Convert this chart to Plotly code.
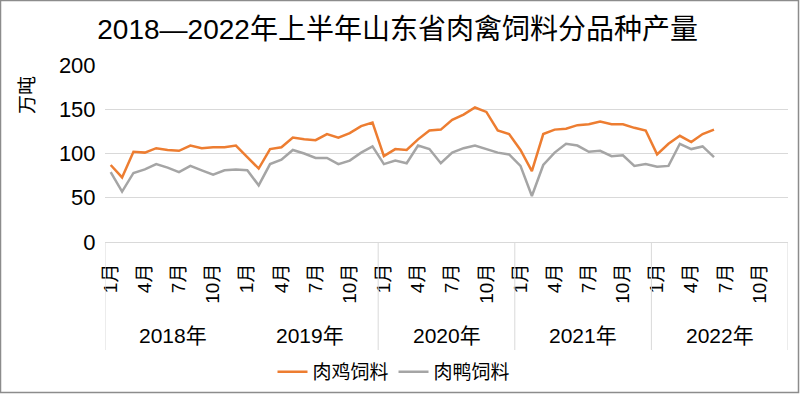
import plotly.graph_objects as go

years = ["2018年", "2019年", "2020年", "2021年", "2022年"]
month_labels = ["1月", "4月", "7月", "10月"]
series_names = ["肉鸡饲料", "肉鸭饲料"]

broiler = [87, 73, 102, 101, 106, 104, 103, 109, 106, 107, 107, 109,
           96, 83, 105, 107, 118, 116, 115, 122, 118, 123, 131, 135,
           97, 105, 104, 116, 126, 127, 138, 144, 152, 147, 126, 122,
           104, 80, 122, 127, 128, 132, 133, 136, 133, 133, 129, 126,
           99, 111, 120, 113, 122, 127]
duck = [79, 57, 78, 82, 88, 84, 79, 86, 81, 76, 81, 82,
        81, 64, 88, 93, 104, 100, 95, 95, 88, 92, 101, 108,
        88, 92, 89, 109, 105, 89, 101, 106, 109, 105, 101, 99,
        86, 52, 87, 101, 111, 109, 102, 103, 97, 98, 86, 88,
        85, 86, 111, 105, 108, 96]

n_months = 12 * len(years)
W, H = 800, 394
ML, MR, MT, MB = 105, 12, 65, 152
PW, PH = W - ML - MR, H - MT - MB

def px_x(p):
    return (p - ML) / PW

def px_y(p):
    return (H - MB - p) / PH

FONT = "Liberation Sans, Arial, Noto Sans CJK SC, sans-serif"

fig = go.Figure()
fig.add_trace(go.Scatter(x=list(range(len(broiler))), y=broiler, mode="lines",
                         name=series_names[0], line=dict(color="#ED7D31", width=2.5)))
fig.add_trace(go.Scatter(x=list(range(len(duck))), y=duck, mode="lines",
                         name=series_names[1], line=dict(color="#A5A5A5", width=2.5)))

tickvals = list(range(0, n_months, 3))
ticktext = [month_labels[(v % 12) // 3] for v in tickvals]

shapes = []
for k in range(len(years) + 1):
    if k == 1:
        continue
    xb = k * 12 - 0.5
    shapes.append(dict(type="line", xref="x", yref="paper", x0=xb, x1=xb,
                       y0=0, y1=px_y(350), line=dict(color="#D9D9D9", width=1)))
shapes.append(dict(type="rect", xref="paper", yref="paper",
                   x0=px_x(0.5), x1=px_x(798.5), y0=px_y(392.5), y1=px_y(0.5),
                   line=dict(color="#8C8C8C", width=1.5)))

annotations = []
for k, yl in enumerate(years):
    annotations.append(dict(text=yl, x=k * 12 + 5.5, xref="x", y=px_y(335), yref="paper",
                            showarrow=False, font=dict(size=21, color="#000000", family=FONT),
                            xanchor="center", yanchor="middle"))
annotations.append(dict(text="万吨", x=px_x(27), xref="paper", y=px_y(95), yref="paper",
                        textangle=-90, showarrow=False,
                        font=dict(size=19, color="#000000", family=FONT),
                        xanchor="center", yanchor="middle"))

fig.update_layout(
    width=W, height=H,
    margin=dict(l=ML, r=MR, t=MT, b=MB, autoexpand=False),
    paper_bgcolor="white", plot_bgcolor="white",
    font=dict(family=FONT, color="#000000"),
    title=dict(text="2018—2022年上半年山东省肉禽饲料分品种产量", x=0.497, xref="container",
               y=1 - 29 / H, yref="container", xanchor="center", yanchor="middle",
               automargin=False,
               font=dict(size=28, color="#000000", family=FONT)),
    xaxis=dict(range=[-0.5, n_months - 0.5], tickvals=tickvals, ticktext=ticktext,
               tickangle=-90, showgrid=False, zeroline=False, automargin=False,
               showline=True, linecolor="#D9D9D9", linewidth=1,
               ticks="outside", ticklen=13, tickcolor="rgba(0,0,0,0)",
               tickfont=dict(size=19, color="#000000", family=FONT)),
    yaxis=dict(range=[0, 200], tickvals=[0, 50, 100, 150, 200], showgrid=True,
               gridcolor="#D9D9D9", gridwidth=1, zeroline=False, automargin=False,
               tickfont=dict(size=22, color="#000000", family=FONT),
               ticks="outside", ticklen=4, tickcolor="rgba(0,0,0,0)"),
    legend=dict(orientation="h", x=px_x(394), xanchor="center", y=px_y(372),
                yanchor="middle", font=dict(size=19, color="#000000", family=FONT),
                itemwidth=30, bgcolor="rgba(0,0,0,0)"),
    shapes=shapes,
    annotations=annotations,
)

fig.write_html("out.html", config={"displayModeBar": False},
               post_script="document.body.style.margin='0';document.body.style.padding='0';"
                           "document.documentElement.style.overflow='hidden';")
